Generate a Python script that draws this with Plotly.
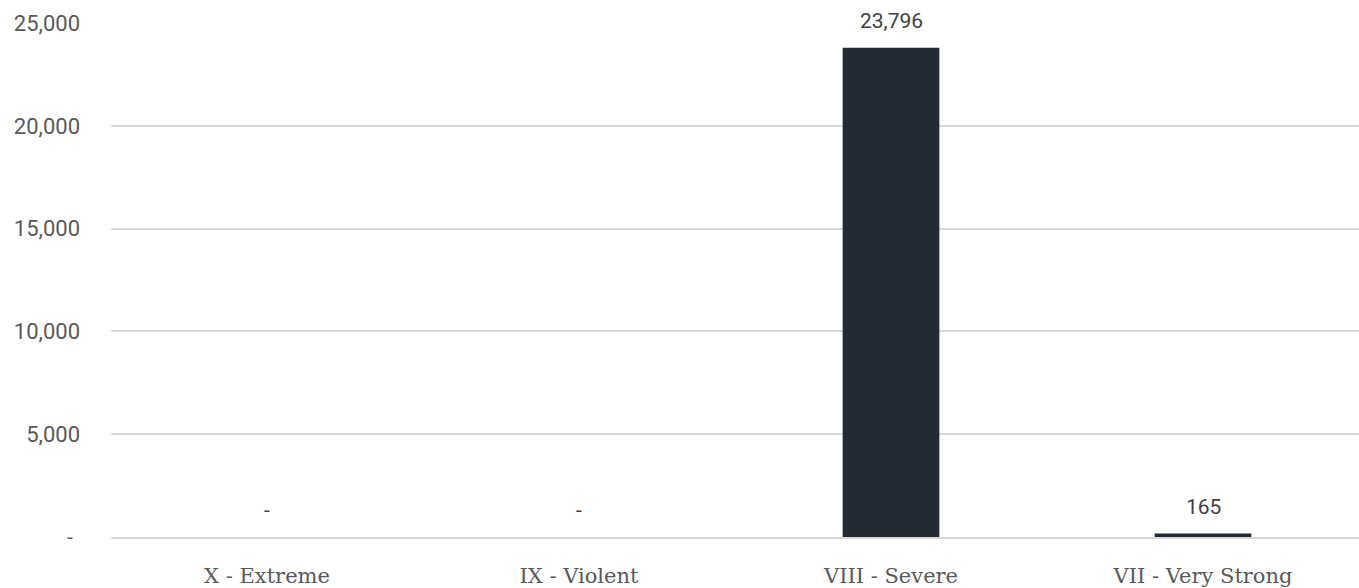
import plotly.graph_objects as go

categories = ["X - Extreme", "IX - Violent", "VIII - Severe", "VII - Very Strong"]
values = [0, 0, 23796, 165]
tick_vals = [0, 5000, 10000, 15000, 20000, 25000]
tick_text = ["", "5,000", "10,000", "15,000", "20,000", "25,000"]

labels = ["-" if v == 0 else f"{v:,}" for v in values]

SERIF = "Roboto Slab, DejaVu Serif, serif"
SANS = "Roboto, sans-serif"
GRAY = "#595959"

fig = go.Figure(go.Bar(
    x=categories, y=values,
    marker=dict(color="#222a35", line=dict(width=0)),
    cliponaxis=False,
))

for c, v, t in zip(categories, values, labels):
    fig.add_annotation(x=c, y=v, text=t, showarrow=False, yanchor="middle",
                       yshift=27, font=dict(family=SANS, size=21, color="#404040"))

fig.update_layout(
    width=1359, height=588,
    margin=dict(l=111, r=0, t=23, b=46),
    plot_bgcolor="white", paper_bgcolor="white",
    bargap=0.69, showlegend=False,
    xaxis=dict(tickfont=dict(family=SERIF, size=21, color=GRAY), showgrid=False,
               showline=True, linecolor="#d9d9d9", linewidth=1.5, ticks="",
               ticklabelstandoff=19),
    yaxis=dict(range=[0, 25000], tickvals=tick_vals, ticktext=tick_text,
               tickfont=dict(family=SANS, size=22, color=GRAY),
               showgrid=True, gridcolor="#d9d9d9", gridwidth=1.5, zeroline=False,
               ticks="", ticklen=0, ticklabelstandoff=30),
)
fig.add_annotation(x=-46 / 1248, y=0, xref="x domain", yref="y", text="-",
                   showarrow=False, font=dict(family=SANS, size=21, color=GRAY))
fig.write_html(
    "out.html",
    config={"displayModeBar": False},
    post_script="document.body.style.margin='0';document.body.style.overflow='hidden';",
)
